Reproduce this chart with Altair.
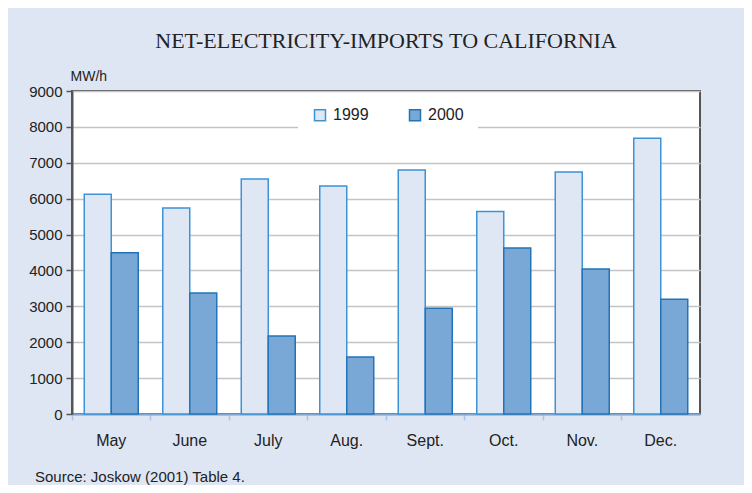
import altair as alt
import pandas as pd

months = ["May", "June", "July", "Aug.", "Sept.", "Oct.", "Nov.", "Dec."]
imports_1999 = [6120, 5740, 6550, 6350, 6800, 5640, 6740, 7680]
imports_2000 = [4490, 3370, 2170, 1590, 2950, 4625, 4040, 3200]
years = ["1999", "2000"]
y_ticks = [0, 1000, 2000, 3000, 4000, 5000, 6000, 7000, 8000, 9000]
title_text = "NET-ELECTRICITY-IMPORTS TO CALIFORNIA"
source_text = "Source: Joskow (2001) Table 4."

df = pd.DataFrame({
    "month": months * 2,
    "year": [years[0]] * len(months) + [years[1]] * len(months),
    "value": imports_1999 + imports_2000,
})

legend_cfg = alt.Legend(
    orient="none", legendX=226, legendY=2, direction="horizontal", title=None,
    fillColor="white", padding=14, symbolType="square", symbolSize=121,
    labelFontSize=16, labelColor="#222", columnPadding=37, labelOffset=5,
    symbolStrokeWidth=1.5,
)

bars = alt.Chart(df).mark_bar(strokeWidth=1.5).encode(
    x=alt.X("month:N", sort=months,
            scale=alt.Scale(paddingInner=0, paddingOuter=0),
            axis=alt.Axis(title=None, labelAngle=0, labelFontSize=16, labelColor="#222",
                          labelPadding=12, domainColor="#7ea8d3", domainWidth=2,
                          tickColor="#a8c5e6", tickSize=6, tickWidth=1.5, bandPosition=0)),
    xOffset=alt.XOffset("year:N", sort=years,
                        scale=alt.Scale(paddingInner=0, paddingOuter=0.454)),
    y=alt.Y("value:Q", scale=alt.Scale(domain=[0, 9000], nice=False),
            axis=alt.Axis(values=y_ticks, format="d", title="MW/h", titleAngle=0,
                          titleX=-2, titleY=-11,
                          titleAlign="left", titleBaseline="alphabetic", titleFontSize=14,
                          titleFontWeight="normal", titleColor="#222",
                          labelFontSize=15, labelColor="#222", labelPadding=4,
                          grid=True, gridColor="#c4c4c4", gridWidth=1.5,
                          domainColor="#555", domainWidth=2,
                          tickColor="#555", tickSize=6, tickWidth=1.5)),
    fill=alt.Fill("year:N", sort=years,
                  scale=alt.Scale(domain=years, range=["#dfe6f4", "#7aa8d6"]),
                  legend=legend_cfg),
    stroke=alt.Stroke("year:N", sort=years,
                      scale=alt.Scale(domain=years, range=["#3d93d6", "#2274b8"]),
                      legend=legend_cfg),
)

source = alt.Chart(pd.DataFrame({"t": [source_text]})).mark_text(
    align="left", baseline="alphabetic", fontSize=15, color="#222"
).encode(x=alt.value(-37), y=alt.value(391), text="t:N")

chart = alt.layer(bars, source).properties(
    width=628, height=323,
    title=alt.TitleParams(title_text, font="Liberation Serif", fontSize=22,
                          fontWeight="normal", color="#222", anchor="middle",
                          frame="group", offset=16),
    autosize=alt.AutoSizeParams(type="none"),
    padding={"left": 64, "top": 83, "right": 44, "bottom": 71},
    background="#dfe6f3",
).configure(font="Liberation Sans").configure_view(
    stroke="#555", strokeWidth=2, fill="white"
)

chart.save("out.html", embed_options={"renderer": "svg", "actions": False})
